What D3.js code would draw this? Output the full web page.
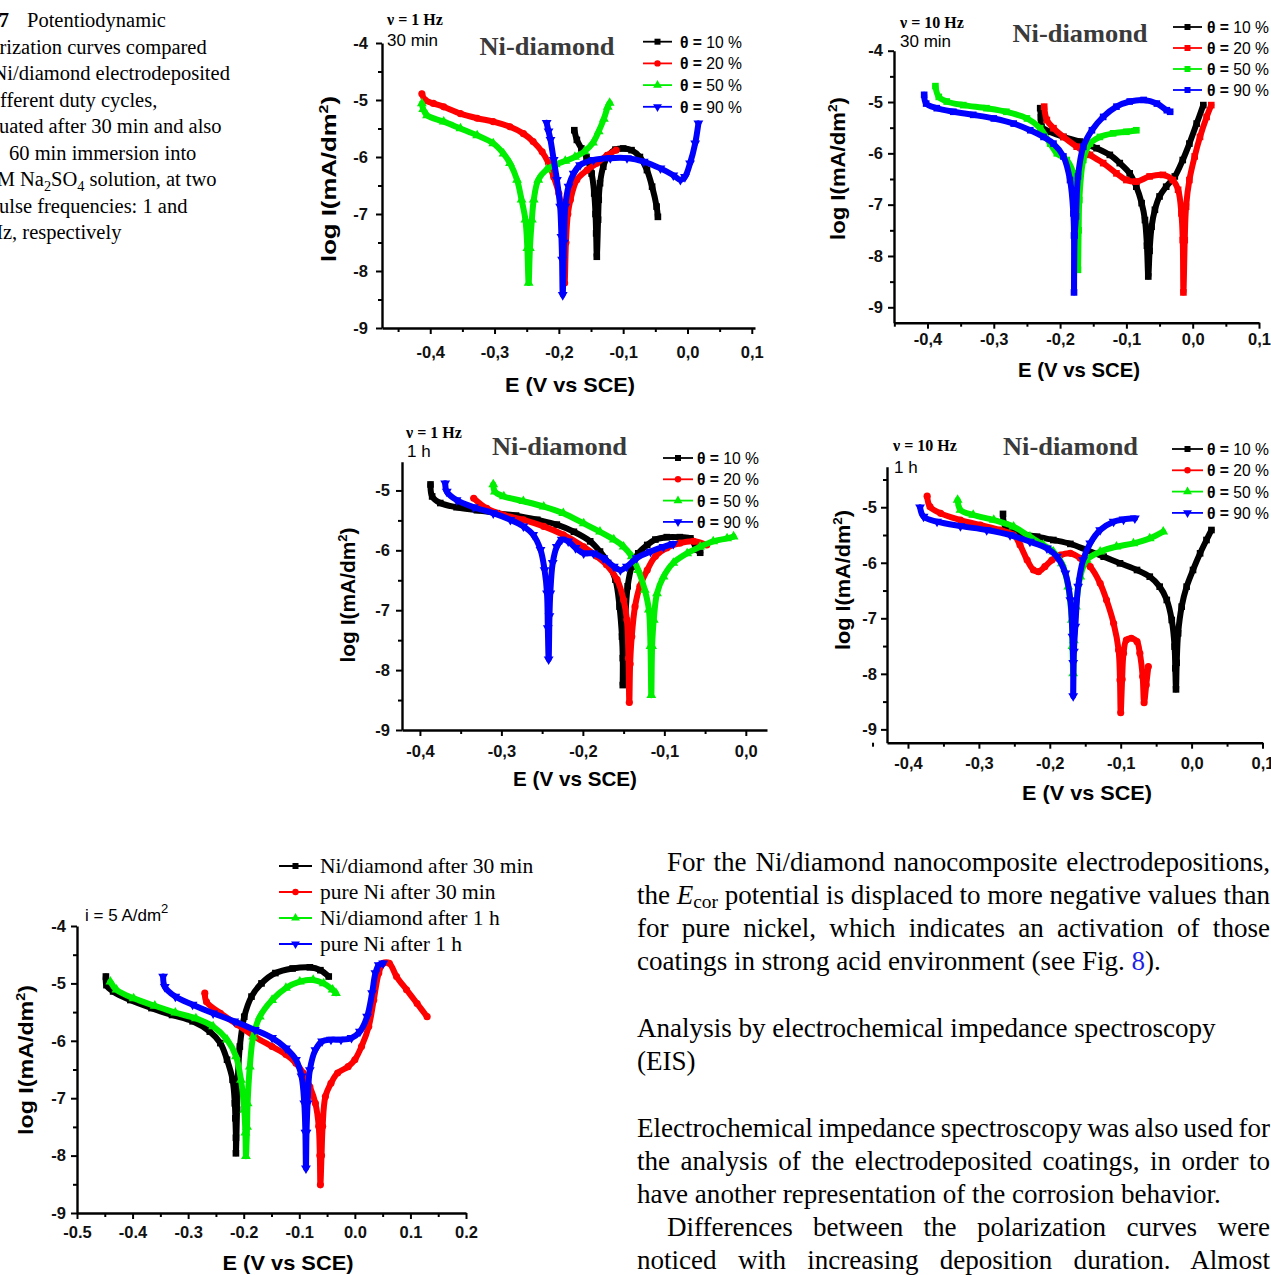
<!DOCTYPE html>
<html>
<head>
<meta charset="utf-8">
<script src="https://cdn.jsdelivr.net/npm/d3@7"></script>
<style>
html, body { margin: 0; padding: 0; background: #fff; }
svg { display: block; }
</style>
</head>
<body>
<svg id="page" width="1271" height="1275"></svg>
<script>
// ---------- DATA (E in V vs SCE, log I) ----------
// panel A : 1 Hz, 30 min
const a10 = [[-0.176,-5.53],[-0.172,-5.70],[-0.165,-5.85],[-0.157,-6.0],[-0.149,-6.29],[-0.145,-6.64],[-0.143,-7.0],[-0.142,-7.34],[-0.141,-7.75],[-0.139,-7.1],[-0.138,-6.75],[-0.136,-6.46],[-0.131,-6.17],[-0.123,-5.97],[-0.112,-5.87],[-0.1,-5.85],[-0.087,-5.88],[-0.074,-6.0],[-0.063,-6.23],[-0.055,-6.52],[-0.048,-6.87],[-0.046,-7.05]];
const a20 = [[-0.413,-4.89],[-0.408,-5.0],[-0.395,-5.06],[-0.379,-5.12],[-0.353,-5.24],[-0.327,-5.32],[-0.302,-5.38],[-0.276,-5.47],[-0.255,-5.59],[-0.24,-5.73],[-0.226,-5.91],[-0.216,-6.11],[-0.208,-6.35],[-0.2,-6.64],[-0.195,-6.99],[-0.193,-7.5],[-0.191,-8.21],[-0.189,-7.5],[-0.186,-7.0],[-0.182,-6.75],[-0.172,-6.4],[-0.156,-6.23],[-0.141,-6.11],[-0.125,-5.97],[-0.111,-5.88]];
const a50 = [[-0.413,-5.06],[-0.411,-5.16],[-0.405,-5.27],[-0.379,-5.38],[-0.353,-5.5],[-0.327,-5.62],[-0.302,-5.76],[-0.286,-5.94],[-0.276,-6.11],[-0.265,-6.4],[-0.258,-6.75],[-0.252,-7.1],[-0.249,-7.6],[-0.247,-8.21],[-0.245,-7.6],[-0.242,-7.1],[-0.239,-6.75],[-0.232,-6.4],[-0.219,-6.22],[-0.205,-6.13],[-0.19,-6.07],[-0.175,-6.0],[-0.16,-5.9],[-0.147,-5.75],[-0.138,-5.55],[-0.13,-5.33],[-0.124,-5.12],[-0.121,-5.05]];
const a90 = [[-0.219,-5.4],[-0.216,-5.55],[-0.213,-5.7],[-0.208,-6.05],[-0.203,-6.4],[-0.198,-6.87],[-0.196,-7.4],[-0.195,-7.8],[-0.194,-8.42],[-0.192,-7.5],[-0.19,-6.87],[-0.185,-6.52],[-0.177,-6.29],[-0.167,-6.14],[-0.146,-6.05],[-0.12,-6.02],[-0.094,-6.02],[-0.068,-6.08],[-0.042,-6.2],[-0.022,-6.32],[-0.011,-6.4],[-0.004,-6.35],[0.004,-6.11],[0.012,-5.76],[0.017,-5.41]];

// panel B : 10 Hz, 30 min
const b10 = [[-0.23,-5.12],[-0.229,-5.3],[-0.228,-5.48],[-0.215,-5.58],[-0.195,-5.68],[-0.17,-5.77],[-0.145,-5.9],[-0.125,-6.03],[-0.11,-6.19],[-0.095,-6.39],[-0.085,-6.65],[-0.077,-6.97],[-0.072,-7.3],[-0.069,-7.8],[-0.067,-8.4],[-0.065,-7.9],[-0.062,-7.43],[-0.057,-7.1],[-0.05,-6.84],[-0.04,-6.65],[-0.027,-6.45],[-0.015,-6.13],[-0.005,-5.81],[0.006,-5.42],[0.016,-5.06]];
const b20 = [[-0.224,-5.09],[-0.22,-5.35],[-0.21,-5.51],[-0.195,-5.68],[-0.175,-5.87],[-0.155,-6.03],[-0.135,-6.19],[-0.115,-6.39],[-0.1,-6.52],[-0.085,-6.55],[-0.065,-6.45],[-0.045,-6.42],[-0.03,-6.52],[-0.022,-6.71],[-0.017,-7.17],[-0.015,-7.69],[-0.014,-8.71],[-0.012,-7.69],[-0.01,-7.04],[-0.005,-6.52],[0.003,-6.06],[0.011,-5.68],[0.021,-5.29],[0.028,-5.06]];
const b50 = [[-0.388,-4.69],[-0.383,-4.9],[-0.371,-4.99],[-0.346,-5.06],[-0.311,-5.12],[-0.281,-5.19],[-0.25,-5.32],[-0.23,-5.51],[-0.215,-5.81],[-0.205,-6.0],[-0.19,-6.13],[-0.18,-6.39],[-0.175,-6.91],[-0.174,-7.5],[-0.173,-8.27],[-0.172,-7.5],[-0.171,-6.91],[-0.165,-6.13],[-0.155,-5.81],[-0.14,-5.68],[-0.12,-5.61],[-0.1,-5.58],[-0.085,-5.55]];
const b90 = [[-0.405,-4.86],[-0.402,-5.03],[-0.386,-5.12],[-0.361,-5.19],[-0.331,-5.25],[-0.3,-5.32],[-0.27,-5.42],[-0.245,-5.55],[-0.225,-5.68],[-0.21,-5.81],[-0.195,-6.06],[-0.185,-6.52],[-0.18,-7.17],[-0.179,-7.6],[-0.179,-8.71],[-0.178,-7.6],[-0.176,-7.23],[-0.173,-6.45],[-0.165,-5.87],[-0.152,-5.55],[-0.135,-5.29],[-0.115,-5.09],[-0.095,-4.99],[-0.074,-4.96],[-0.054,-5.03],[-0.039,-5.16],[-0.034,-5.19]];

// panel C : 1 Hz, 1 h
const c10 = [[-0.387,-4.9],[-0.385,-5.1],[-0.375,-5.21],[-0.355,-5.28],[-0.33,-5.33],[-0.306,-5.38],[-0.282,-5.42],[-0.256,-5.49],[-0.232,-5.57],[-0.211,-5.69],[-0.191,-5.85],[-0.179,-6.02],[-0.169,-6.21],[-0.16,-6.49],[-0.155,-6.94],[-0.152,-7.44],[-0.151,-7.8],[-0.151,-8.25],[-0.149,-7.6],[-0.148,-7.16],[-0.145,-6.6],[-0.14,-6.27],[-0.132,-6.05],[-0.121,-5.91],[-0.111,-5.82],[-0.097,-5.78],[-0.081,-5.78],[-0.068,-5.8],[-0.06,-5.99],[-0.056,-6.04]];
const c20 = [[-0.334,-5.13],[-0.318,-5.3],[-0.297,-5.41],[-0.273,-5.49],[-0.248,-5.6],[-0.224,-5.74],[-0.199,-5.94],[-0.183,-6.1],[-0.171,-6.24],[-0.158,-6.49],[-0.15,-6.83],[-0.146,-7.16],[-0.144,-7.8],[-0.143,-8.54],[-0.142,-7.9],[-0.14,-7.44],[-0.136,-6.94],[-0.13,-6.6],[-0.121,-6.33],[-0.111,-6.1],[-0.097,-5.96],[-0.081,-5.88],[-0.064,-5.85],[-0.048,-5.91]];
const c50 = [[-0.31,-4.9],[-0.308,-5.02],[-0.297,-5.1],[-0.273,-5.18],[-0.248,-5.27],[-0.224,-5.38],[-0.199,-5.55],[-0.179,-5.69],[-0.162,-5.82],[-0.15,-5.94],[-0.14,-6.1],[-0.132,-6.33],[-0.124,-6.66],[-0.119,-6.99],[-0.117,-7.6],[-0.116,-8.42],[-0.115,-7.6],[-0.113,-7.16],[-0.109,-6.72],[-0.101,-6.44],[-0.089,-6.21],[-0.072,-6.05],[-0.056,-5.94],[-0.04,-5.85],[-0.023,-5.8],[-0.015,-5.77]];
const c90 = [[-0.369,-4.88],[-0.367,-5.02],[-0.355,-5.16],[-0.334,-5.28],[-0.31,-5.38],[-0.289,-5.49],[-0.273,-5.6],[-0.261,-5.74],[-0.252,-5.99],[-0.247,-6.33],[-0.244,-6.72],[-0.243,-7.3],[-0.242,-7.82],[-0.241,-7.1],[-0.24,-6.72],[-0.237,-6.21],[-0.232,-5.94],[-0.226,-5.82],[-0.218,-5.85],[-0.209,-5.96],[-0.199,-6.05],[-0.187,-6.05],[-0.175,-6.13],[-0.162,-6.27],[-0.154,-6.33],[-0.146,-6.27],[-0.134,-6.13],[-0.117,-6.02],[-0.101,-5.94],[-0.089,-5.89]];

// panel D : 10 Hz, 1 h
const d10 = [[-0.266,-5.12],[-0.263,-5.32],[-0.242,-5.47],[-0.218,-5.53],[-0.195,-5.59],[-0.171,-5.66],[-0.148,-5.77],[-0.124,-5.89],[-0.101,-6.01],[-0.077,-6.13],[-0.059,-6.25],[-0.045,-6.43],[-0.035,-6.67],[-0.028,-7.03],[-0.024,-7.51],[-0.023,-7.9],[-0.022,-8.28],[-0.021,-7.8],[-0.019,-7.27],[-0.014,-6.79],[-0.007,-6.43],[0.002,-6.13],[0.012,-5.83],[0.021,-5.59],[0.028,-5.41]];
const d20 = [[-0.373,-4.8],[-0.369,-4.99],[-0.354,-5.11],[-0.326,-5.23],[-0.298,-5.32],[-0.27,-5.41],[-0.251,-5.5],[-0.242,-5.68],[-0.232,-5.95],[-0.223,-6.13],[-0.216,-6.16],[-0.207,-6.07],[-0.197,-5.95],[-0.185,-5.86],[-0.171,-5.83],[-0.157,-5.92],[-0.143,-6.07],[-0.129,-6.37],[-0.12,-6.67],[-0.11,-7.09],[-0.103,-7.57],[-0.101,-8.11],[-0.1,-8.7],[-0.098,-8.1],[-0.096,-7.63],[-0.092,-7.39],[-0.085,-7.36],[-0.077,-7.42],[-0.073,-7.63],[-0.069,-8.05],[-0.067,-8.52],[-0.064,-8.2],[-0.061,-7.87]];
const d50 = [[-0.33,-4.87],[-0.326,-5.05],[-0.308,-5.14],[-0.279,-5.23],[-0.251,-5.35],[-0.228,-5.53],[-0.209,-5.68],[-0.195,-5.8],[-0.183,-6.01],[-0.174,-6.43],[-0.169,-7.03],[-0.168,-7.5],[-0.167,-7.99],[-0.166,-7.4],[-0.163,-6.79],[-0.157,-6.25],[-0.148,-5.95],[-0.129,-5.8],[-0.106,-5.71],[-0.082,-5.65],[-0.059,-5.56],[-0.04,-5.44]];
const d90 = [[-0.383,-5.0],[-0.378,-5.17],[-0.359,-5.26],[-0.326,-5.34],[-0.289,-5.41],[-0.256,-5.5],[-0.228,-5.62],[-0.204,-5.74],[-0.19,-5.89],[-0.178,-6.19],[-0.171,-6.67],[-0.168,-7.33],[-0.167,-7.8],[-0.167,-8.4],[-0.166,-7.6],[-0.164,-7.15],[-0.16,-6.43],[-0.153,-5.95],[-0.143,-5.65],[-0.129,-5.41],[-0.11,-5.26],[-0.096,-5.22],[-0.08,-5.2]];

// panel E : Ni/diamond vs pure Ni, i = 5 A/dm2
const niDiamond30 = [[-0.448,-4.88],[-0.447,-5.03],[-0.435,-5.14],[-0.404,-5.29],[-0.366,-5.43],[-0.329,-5.55],[-0.292,-5.66],[-0.261,-5.84],[-0.242,-6.04],[-0.23,-6.33],[-0.22,-6.68],[-0.216,-7.09],[-0.215,-7.35],[-0.214,-7.69],[-0.214,-7.96],[-0.212,-7.2],[-0.211,-6.74],[-0.207,-6.1],[-0.199,-5.58],[-0.186,-5.23],[-0.168,-5.0],[-0.143,-4.82],[-0.112,-4.74],[-0.081,-4.72],[-0.062,-4.77],[-0.047,-4.88]];
const pureNi30 = [[-0.27,-5.17],[-0.267,-5.32],[-0.242,-5.52],[-0.211,-5.72],[-0.18,-5.93],[-0.149,-6.1],[-0.124,-6.24],[-0.106,-6.39],[-0.093,-6.56],[-0.081,-6.8],[-0.071,-7.09],[-0.065,-7.49],[-0.063,-8.0],[-0.062,-8.51],[-0.06,-8.0],[-0.058,-7.49],[-0.053,-6.97],[-0.043,-6.74],[-0.031,-6.56],[-0.012,-6.45],[0.0,-6.33],[0.012,-6.1],[0.025,-5.75],[0.034,-5.29],[0.043,-4.82],[0.051,-4.65],[0.062,-4.65],[0.075,-4.88],[0.093,-5.11],[0.112,-5.35],[0.13,-5.58]];
const niDiamond1h = [[-0.44,-4.97],[-0.429,-5.11],[-0.398,-5.26],[-0.36,-5.39],[-0.323,-5.51],[-0.286,-5.61],[-0.255,-5.75],[-0.23,-5.98],[-0.214,-6.27],[-0.205,-6.68],[-0.199,-7.2],[-0.197,-7.6],[-0.196,-8.01],[-0.194,-7.5],[-0.193,-7.09],[-0.189,-6.45],[-0.183,-5.93],[-0.171,-5.58],[-0.149,-5.29],[-0.124,-5.08],[-0.099,-4.97],[-0.075,-4.94],[-0.056,-5.0],[-0.04,-5.11],[-0.034,-5.17]];
const pureNi1h = [[-0.345,-4.88],[-0.342,-5.06],[-0.323,-5.23],[-0.292,-5.37],[-0.255,-5.52],[-0.217,-5.66],[-0.18,-5.81],[-0.149,-5.95],[-0.124,-6.13],[-0.106,-6.33],[-0.096,-6.62],[-0.091,-7.09],[-0.089,-7.6],[-0.088,-8.22],[-0.087,-7.6],[-0.085,-7.09],[-0.081,-6.51],[-0.071,-6.16],[-0.059,-6.01],[-0.043,-5.98],[-0.025,-5.98],[-0.006,-5.95],[0.009,-5.84],[0.022,-5.58],[0.031,-5.17],[0.037,-4.82],[0.043,-4.68],[0.051,-4.65]];

// ---------- LABELS / TICKS ----------
const dutyLabels = ["10 %", "20 %", "50 %", "90 %"];
const compareLabels = ["Ni/diamond after 30 min", "pure Ni after 30 min", "Ni/diamond after 1 h", "pure Ni after 1 h"];
const eTicks = [-0.4, -0.3, -0.2, -0.1, 0.0, 0.1];
const eMinor = [-0.45, -0.35, -0.25, -0.15, -0.05, 0.05];
const eTicksShort = [-0.4, -0.3, -0.2, -0.1, 0.0];
const eMinorShort = [-0.35, -0.25, -0.15, -0.05];
const eTicksWide = [-0.5, -0.4, -0.3, -0.2, -0.1, 0.0, 0.1, 0.2];
const eMinorWide = [-0.45, -0.35, -0.25, -0.15, -0.05, 0.05, 0.15];
const logTicks = [-9, -8, -7, -6, -5, -4];
const logTicksLow = [-9, -8, -7, -6, -5];
const logMinor = [-8.5, -7.5, -6.5, -5.5, -4.5];

const COLORS = ["#000000", "#ff0000", "#00ee00", "#0000ff"];
const SANS = "'Liberation Sans', Arial, sans-serif";
const SERIF = "'Liberation Serif', 'Times New Roman', serif";

const svg = d3.select("#page");

// ---------- PANEL LAYOUT ----------
const panels = [
  { series: [a10, a20, a50, a90], shapes: ["square", "circle", "up", "down"],
    x0: 382, x1: 755, xDom: [-0.475, 0.105], yTop: 43, yBot: 328, yDom: [-9, -4],
    xTicks: eTicks, xMinor: eMinor, yTicks: logTicks, dec: ",", xPad: 12, yPad: 8,
    legend: { lx0: 643, lx1: 672, tx: 680, y0: 41.7, dy: 21.7 },
    title: { x: 547, y: 55 }, freq: { t: "ν = 1 Hz", x: 387, y: 25 }, dur: { t: "30 min", x: 387, y: 46 },
    ylab: { x: 335.5, y: 179, len: 166 }, xlab: { x: 570, y: 392, len: 130 } },
  { series: [b10, b20, b50, b90], shapes: ["square", "square", "square", "square"],
    x0: 894, x1: 1259, xDom: [-0.4505, 0.1], yTop: 50.7, yBot: 322.7, yDom: [-9.3, -4],
    xTicks: eTicks, xMinor: eMinor, yTicks: logTicks, dec: ",", xPad: 5, yPad: 5,
    legend: { lx0: 1173, lx1: 1202, tx: 1207, y0: 27, dy: 21 },
    title: { x: 1080, y: 42 }, freq: { t: "ν = 10 Hz", x: 900, y: 28 }, dur: { t: "30 min", x: 900, y: 47 },
    ylab: { x: 844.5, y: 168.5, len: 143 }, xlab: { x: 1079, y: 377, len: 122 } },
  { series: [c10, c20, c50, c90], shapes: ["square", "circle", "up", "down"],
    x0: 402, x1: 767, xDom: [-0.422, 0.026], yTop: 461.7, yBot: 730, yDom: [-9, -4.52],
    xTicks: eTicksShort, xMinor: eMinorShort, yTicks: logTicksLow, dec: ",", xPad: 9, yPad: 6,
    legend: { lx0: 663, lx1: 693, tx: 697, y0: 458, dy: 21.3 },
    title: { x: 559.5, y: 455 }, freq: { t: "ν = 1 Hz", x: 406, y: 438 }, dur: { t: "1 h", x: 407, y: 457 },
    ylab: { x: 354.5, y: 595, len: 135 }, xlab: { x: 575, y: 786, len: 124 } },
  { series: [d10, d20, d50, d90], shapes: ["square", "circle", "up", "down"],
    x0: 887, x1: 1262.5, xDom: [-0.4296, 0.1], yTop: 466.7, yBot: 742.7, yDom: [-9.24, -4.27],
    xTicks: eTicks, xMinor: eMinor, yTicks: logTicksLow, dec: ",", xPad: 9, yPad: 4,
    legend: { lx0: 1172, lx1: 1203, tx: 1207, y0: 449, dy: 21.3 },
    title: { x: 1070.5, y: 455 }, freq: { t: "ν = 10 Hz", x: 893, y: 451 }, dur: { t: "1 h", x: 894, y: 473 },
    ylab: { x: 849.5, y: 580, len: 140 }, xlab: { x: 1087, y: 800, len: 130 } },
  { series: [niDiamond30, pureNi30, niDiamond1h, pureNi1h], shapes: ["square", "circle", "up", "down"],
    x0: 77, x1: 466, xDom: [-0.5, 0.2], yTop: 926, yBot: 1213, yDom: [-9, -4],
    xTicks: eTicksWide, xMinor: eMinorWide, yTicks: logTicks, dec: ".", xPad: 7, yPad: 5,
    compare: { lx0: 279, lx1: 312, tx: 320, y0: 866, dy: 26 },
    note: { x: 85, y: 921 },
    ylab: { x: 32.5, y: 1060, len: 150 }, xlab: { x: 288, y: 1270, len: 131 } }
];

const symbolGen = {
  square: d3.symbol().type(d3.symbolSquare).size(44),
  circle: d3.symbol().type(d3.symbolCircle).size(40),
  up: d3.symbol().type(d3.symbolTriangle).size(42),
  down: d3.symbol().type(d3.symbolTriangle).size(42)
};
const legendSymbol = {
  square: d3.symbol().type(d3.symbolSquare).size(36),
  circle: d3.symbol().type(d3.symbolCircle).size(32),
  up: d3.symbol().type(d3.symbolTriangle).size(34),
  down: d3.symbol().type(d3.symbolTriangle).size(34)
};

function place(cx, cy, shape) {
  return `translate(${cx},${cy})` + (shape === "down" ? " rotate(180)" : "");
}

function drawLegendRow(g, L, i, shape, color) {
  const cy = L.y0 + i * L.dy;
  g.append("line").attr("x1", L.lx0).attr("x2", L.lx1).attr("y1", cy).attr("y2", cy)
    .attr("stroke", color).attr("stroke-width", 1.8);
  g.append("path").attr("d", legendSymbol[shape]()).attr("fill", color)
    .attr("transform", place((L.lx0 + L.lx1) / 2, cy, shape));
  return cy;
}

function drawPanel(p) {
  const g = svg.append("g");
  const x = d3.scaleLinear().domain(p.xDom).range([p.x0, p.x1]);
  const y = d3.scaleLinear().domain(p.yDom).range([p.yBot, p.yTop]);
  const fmtX = v => d3.format(".1f")(v).replace("−", "-").replace(".", p.dec);
  const fmtY = v => d3.format("d")(v).replace("−", "-");

  // axes (major + minor ticks)
  g.append("g").attr("class", "ax").attr("transform", `translate(0,${p.yBot})`)
    .call(d3.axisBottom(x).tickValues(p.xTicks).tickFormat(fmtX).tickSize(6).tickSizeOuter(0).tickPadding(p.xPad));
  g.append("g").attr("class", "ax minor").attr("transform", `translate(0,${p.yBot})`)
    .call(d3.axisBottom(x).tickValues(p.xMinor).tickFormat("").tickSize(4).tickSizeOuter(0));
  g.append("g").attr("class", "ax").attr("transform", `translate(${p.x0},0)`)
    .call(d3.axisLeft(y).tickValues(p.yTicks).tickFormat(fmtY).tickSize(6).tickSizeOuter(0).tickPadding(p.yPad));
  g.append("g").attr("class", "ax minor").attr("transform", `translate(${p.x0},0)`)
    .call(d3.axisLeft(y).tickValues(logMinor.filter(v => v >= p.yDom[0] && v <= p.yDom[1])).tickFormat("").tickSize(4).tickSizeOuter(0));
  g.selectAll(".minor .domain").remove();
  g.selectAll(".domain").attr("stroke", "#000").attr("stroke-width", 2.4);
  g.selectAll(".tick line").attr("stroke", "#000").attr("stroke-width", 2);
  g.selectAll(".tick text").attr("font-family", SANS).attr("font-weight", "bold")
    .attr("font-size", 16.5).attr("fill", "#111");

  // curves
  const line = d3.line().x(d => x(d[0])).y(d => y(d[1])).curve(d3.curveCatmullRom.alpha(0.5));
  p.series.forEach((s, i) => {
    const sg = g.append("g");
    sg.append("path").datum(s).attr("d", line)
      .attr("fill", "none").attr("stroke", COLORS[i]).attr("stroke-width", 6)
      .attr("stroke-linejoin", "round").attr("stroke-linecap", "round");
    sg.selectAll("path.mk").data(s).join("path").attr("class", "mk")
      .attr("d", symbolGen[p.shapes[i]]())
      .attr("fill", COLORS[i])
      .attr("transform", d => place(x(d[0]), y(d[1]), p.shapes[i]));
  });

  // axis titles
  g.append("text").attr("x", p.xlab.x).attr("y", p.xlab.y).attr("text-anchor", "middle")
    .attr("font-family", SANS).attr("font-weight", "bold").attr("font-size", 21)
    .attr("textLength", p.xlab.len).attr("lengthAdjust", "spacingAndGlyphs")
    .text("E (V vs SCE)");
  const yl = g.append("text").attr("transform", `translate(${p.ylab.x},${p.ylab.y}) rotate(-90)`)
    .attr("text-anchor", "middle").attr("font-family", SANS).attr("font-weight", "bold").attr("font-size", 21)
    .attr("textLength", p.ylab.len).attr("lengthAdjust", "spacingAndGlyphs");
  yl.append("tspan").text("log I(mA/dm");
  yl.append("tspan").attr("font-size", 13).attr("dy", -8).text("2");
  yl.append("tspan").attr("dy", 8).text(")");

  if (p.title) {
    g.append("text").attr("x", p.title.x).attr("y", p.title.y).attr("text-anchor", "middle")
      .attr("font-family", SERIF).attr("font-weight", "bold").attr("font-size", 26).attr("fill", "#3a3a3a")
      .attr("textLength", 135).attr("lengthAdjust", "spacingAndGlyphs")
      .text("Ni-diamond");
    g.append("text").attr("x", p.freq.x).attr("y", p.freq.y)
      .attr("font-family", SERIF).attr("font-weight", "bold").attr("font-size", 16).text(p.freq.t);
    g.append("text").attr("x", p.dur.x).attr("y", p.dur.y)
      .attr("font-family", SANS).attr("font-size", 17).text(p.dur.t);
  }

  if (p.legend) {
    dutyLabels.forEach((lab, i) => {
      const cy = drawLegendRow(g, p.legend, i, p.shapes[i], COLORS[i]);
      const t = g.append("text").attr("x", p.legend.tx).attr("y", cy + 6)
        .attr("font-family", SANS).attr("font-size", 16.5)
        .attr("textLength", 62).attr("lengthAdjust", "spacingAndGlyphs");
      t.append("tspan").attr("font-weight", "bold").text("θ = ");
      t.append("tspan").text(lab);
    });
  }

  if (p.compare) {
    compareLabels.forEach((lab, i) => {
      const cy = drawLegendRow(g, p.compare, i, p.shapes[i], COLORS[i]);
      g.append("text").attr("x", p.compare.tx).attr("y", cy + 7)
        .attr("font-family", SERIF).attr("font-size", 21.5).text(lab);
    });
    const n = g.append("text").attr("x", p.note.x).attr("y", p.note.y)
      .attr("font-family", SANS).attr("font-size", 17);
    n.append("tspan").text("i = 5 A/dm");
    n.append("tspan").attr("font-size", 13).attr("dy", -8).text("2");
  }
}

panels.forEach(drawPanel);

// ---------- CAPTION (left edge of the page is cut off) ----------
const captionLines = [
  { t: "polarization curves compared", cut: 4, at: -0.5 },
  { t: "Ni/diamond electrodeposited", cut: 1, at: 7.3 },
  { t: "different duty cycles,", cut: 2, at: 0 },
  { t: "evaluated after 30 min and also", cut: 4, at: -1 },
  { t: "60 min immersion into", cut: 0, at: 9 },
  { t: "0.5 M Na|2|SO|4| solution, at two", cut: 6, at: 20 },
  { t: "pulse frequencies: 1 and", cut: 1, at: -1 },
  { t: "10 Hz, respectively", cut: 4, at: 3 }
];
const capSize = 20.5;
const cap = svg.append("g").attr("font-family", SERIF).attr("font-size", capSize).attr("fill", "#000");
cap.append("text").attr("x", 9).attr("y", 27).attr("text-anchor", "end").attr("font-weight", "bold").text("Fig. 7");
cap.append("text").attr("x", 27).attr("y", 27).text("Potentiodynamic");
captionLines.forEach((ln, i) => {
  const t = cap.append("text").attr("y", 27 + (i + 1) * 26.5);
  ln.t.split("|").forEach((part, k) => {
    const ts = t.append("tspan").text(part);
    if (k % 2 === 1) ts.attr("font-size", capSize * 0.7).attr("dy", 5);
    else if (k > 0) ts.attr("dy", -5);
  });
  const pre = ln.cut > 0 ? t.node().getSubStringLength(0, ln.cut) : 0;
  t.attr("x", ln.at - pre);
});

// ---------- BODY TEXT ----------
const bodyLines = [
  { x: 667, y: 871, parts: [["For the Ni/diamond nanocomposite electrodepositions,"]], just: true },
  { x: 637, y: 904, parts: [["the "], ["E", "it"], ["cor", "sub"], [" potential is displaced to more negative values than"]], just: true },
  { x: 637, y: 937, parts: [["for pure nickel, which indicates an activation of those"]], just: true },
  { x: 637, y: 970, parts: [["coatings in strong acid environment (see Fig. "], ["8", "link"], [")."]] },
  { x: 637, y: 1037, parts: [["Analysis by electrochemical impedance spectroscopy"]] },
  { x: 637, y: 1070, parts: [["(EIS)"]] },
  { x: 637, y: 1137, parts: [["Electrochemical impedance spectroscopy was also used for"]], just: true },
  { x: 637, y: 1170, parts: [["the analysis of the electrodeposited coatings, in order to"]], just: true },
  { x: 637, y: 1203, parts: [["have another representation of the corrosion behavior."]] },
  { x: 667, y: 1236, parts: [["Differences between the polarization curves were"]], just: true },
  { x: 637, y: 1269, parts: [["noticed with increasing deposition duration. Almost"]], just: true }
];
const body = svg.append("g").attr("font-family", SERIF).attr("fill", "#000");
// fit the font size to the heading line width
const probe = body.append("text").attr("font-size", 22).text("Analysis by electrochemical impedance spectroscopy");
const bodySize = 22 * 579 / probe.node().getComputedTextLength();
probe.remove();
body.attr("font-size", bodySize);
const rightEdge = 1270;
bodyLines.forEach(ln => {
  const t = body.append("text").attr("x", ln.x).attr("y", ln.y);
  ln.parts.forEach(([s, kind]) => {
    const ts = t.append("tspan").text(s);
    if (kind === "it") ts.attr("font-style", "italic");
    if (kind === "sub") ts.attr("font-size", bodySize * 0.72).attr("dy", 4);
    if (kind === "link") ts.attr("fill", "#1f1fe6");
    if (kind === undefined && ln.parts.some(q => q[1] === "sub") && s.startsWith(" ")) ts.attr("dy", -4);
  });
  if (ln.just) {
    const w = t.node().getComputedTextLength();
    const n = (t.text().match(/ /g) || []).length;
    t.style("word-spacing", ((rightEdge - ln.x - w) / n) + "px");
  }
});
</script>
</body>
</html>
